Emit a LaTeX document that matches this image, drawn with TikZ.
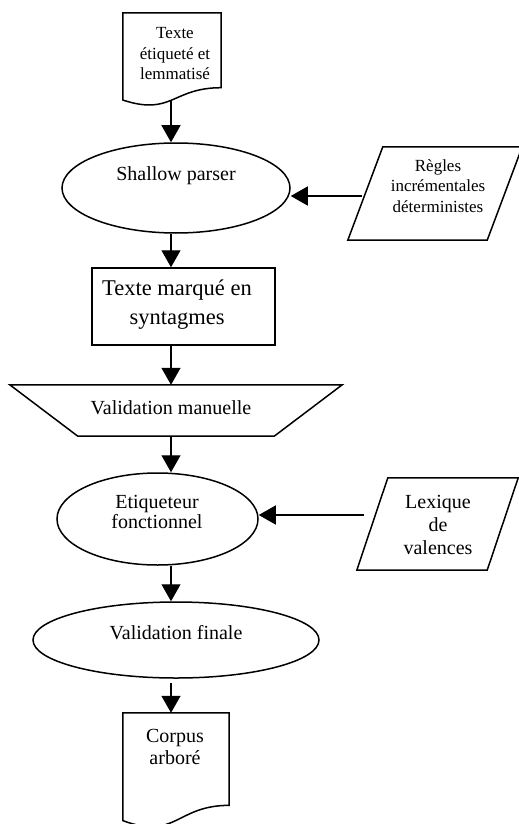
\documentclass[tikz,border=0pt]{standalone}
\usepackage{fontspec}
\setmainfont{Liberation Serif}
\usetikzlibrary{shapes.geometric,arrows.meta,calc}

\tikzset{
  outline/.style={draw=black, line width=1.5pt, fill=white},
  conn/.style={line width=1.3pt, -{Triangle[width=19pt,length=17pt]}},
  lbl/.style={font=\fontsize{20}{21.5}\selectfont, align=center, inner sep=0pt},
  lblsmall/.style={font=\fontsize{17}{20.5}\selectfont, align=center, inner sep=0pt},
  lblbig/.style={font=\fontsize{22.5}{29}\selectfont, align=center, inner sep=0pt},
  ellbox/.style={outline, ellipse, inner sep=0pt},
  frame/.style={rectangle, draw=none, inner sep=0pt},
}

% wavy-bottom document outline drawn over a frame node
\newcommand{\docoutline}[1]{%
  \path[outline] (#1.north west) -- (#1.north east)
    -- ($(#1.north east)!0.802!(#1.south east)$)
    .. controls ($(#1.north)!0.802!(#1.south)$) and ($(#1.north)!1.107!(#1.south)$)
    .. ($(#1.north west)!0.934!(#1.south west)$) -- cycle;}

% parallelogram leaning right: top edge shifted by #2
\newcommand{\leanoutline}[2]{%
  \path[outline] ([xshift=#2]#1.north west) -- (#1.north east)
    -- ([xshift=-#2]#1.south east) -- (#1.south west) -- cycle;}

% upside-down trapezoid: bottom edge inset by #2 on each side
\newcommand{\funneloutline}[2]{%
  \path[outline] (#1.north west) -- (#1.north east)
    -- ([xshift=-#2]#1.south east) -- ([xshift=#2]#1.south west) -- cycle;}

\begin{document}
\begin{tikzpicture}[x=1pt,y=-1pt]
  \useasboundingbox (0,0) rectangle (519,824);
  \clip (0,0) rectangle (519,824);

  % vertical line of the main flow
  \coordinate (spine) at (171,0);

  % input document
  \node[frame, minimum width=98pt, minimum height=93pt] (d1) at (172,59.5) {};
  \docoutline{d1}
  \coordinate (d1b) at ($(d1.north)!0.933!(d1.south)$);
  \node[lblsmall] (d1t) at (175,54) {Texte\\étiqueté et\\lemmatisé};

  % shallow parser
  \node[ellbox, minimum width=228pt, minimum height=90pt] (e1) at (176,188) {};
  \node[lbl] (e1t) at (176,176) {Shallow parser};

  % rules
  \node[frame, minimum width=174pt, minimum height=93pt] (p1) at (435,193.5) {};
  \leanoutline{p1}{35pt}
  \node[lblsmall] (p1t) at (438,186) {Règles\\incrémentales\\déterministes};

  % chunked text
  \node[outline, rectangle, minimum width=183pt, minimum height=77pt] (r) at (183.5,306.5) {};
  \node[lblbig] (rt) at (177,305) {Texte marqué en\\syntagmes};

  % manual validation
  \node[frame, minimum width=332pt, minimum height=51pt] (t) at (176,410.5) {};
  \funneloutline{t}{68pt}
  \node[lbl] (tt) at (171,408) {Validation manuelle};

  % functional tagger
  \node[ellbox, minimum width=201pt, minimum height=92pt] (e2) at (157.5,519) {};
  \node[font=\fontsize{20}{20.5}\selectfont, align=center, inner sep=0pt] (e2t) at (157,512) {Etiqueteur\\fonctionnel};

  % valency lexicon
  \node[frame, minimum width=161pt, minimum height=92pt] (p2) at (437.5,524) {};
  \leanoutline{p2}{31pt}
  \node[font=\fontsize{20}{22.7}\selectfont, align=center, inner sep=0pt] (p2t) at (438,525) {Lexique\\de\\valences};

  % final validation
  \node[ellbox, minimum width=286pt, minimum height=76pt] (e3) at (176,640) {};
  \node[lbl] (e3t) at (176,633) {Validation finale};

  % output document
  \node[frame, minimum width=106pt, minimum height=115pt] (d2) at (176,770.5) {};
  \docoutline{d2}
  \node[font=\fontsize{20}{21.7}\selectfont, align=center, inner sep=0pt] (d2t) at (175,747) {Corpus\\arboré};

  % main flow connectors
  \draw[conn] (d1b -| spine) -- (e1.north -| spine);
  \draw[conn] (e1.south -| spine) -- (r.north -| spine);
  \draw[conn] (r.south -| spine) -- (t.north -| spine);
  \draw[conn] (t.south -| spine) -- (e2.north -| spine);
  \draw[conn] (e2.south -| spine) -- (e3.north -| spine);
  \draw[conn] ([yshift=-4pt]e3.south -| spine) -- (d2.north -| spine);

  % side inputs
  \coordinate (p1in) at ([xshift=14.5pt,yshift=-2.5pt]p1.west);
  \draw[conn] (p1in) -- (p1in -| e1.east);
  \coordinate (p2in) at ([xshift=7.5pt,yshift=9pt]p2.west);
  \draw[conn] (p2in) -- (p2in -| e2.east);
\end{tikzpicture}
\end{document}
